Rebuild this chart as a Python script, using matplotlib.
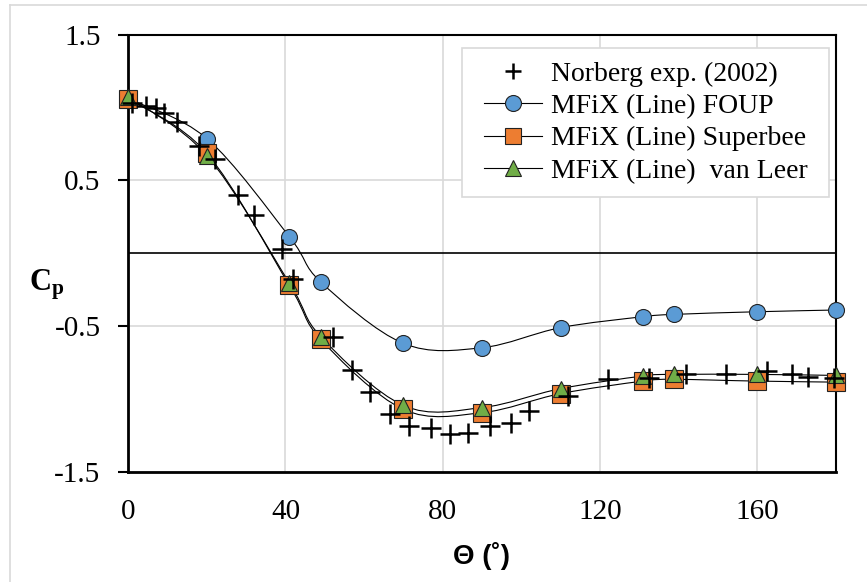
import matplotlib
matplotlib.use("Agg")
import matplotlib.pyplot as plt
from matplotlib.path import Path
from matplotlib.patches import PathPatch, Rectangle
from matplotlib.lines import Line2D

# Norberg experimental data (2002)
exp_theta = [1, 4.5, 7, 9, 12.5, 18, 22, 28, 32, 39, 42, 52, 57, 61.5, 66.5,
             71.5, 77, 82, 86.5, 92, 97.5, 102, 112, 122, 132.5, 142, 152,
             162.5, 169, 173, 179.5]
exp_cp = [1.03, 1.01, 1.0, 0.96, 0.9, 0.735, 0.65, 0.4, 0.265, 0.03, -0.18,
          -0.575, -0.8, -0.955, -1.105, -1.185, -1.2, -1.24, -1.232, -1.187,
          -1.163, -1.085, -0.98, -0.866, -0.86, -0.83, -0.827, -0.81, -0.827,
          -0.85, -0.855]

# MFiX simulations
sim_theta = [0, 20, 41, 49, 70, 90, 110, 131, 139, 160, 180]
foup_cp = [1.06, 0.787, 0.113, -0.198, -0.619, -0.649, -0.511, -0.436, -0.42,
           -0.402, -0.39]
superbee_cp = [1.06, 0.685, -0.221, -0.592, -1.072, -1.095, -0.964, -0.878,
               -0.866, -0.878, -0.885]
vanleer_cp = [1.07, 0.67, -0.205, -0.573, -1.045, -1.06, -0.93, -0.843,
              -0.832, -0.832, -0.839]

labels = ["Norberg exp. (2002)", "MFiX (Line) FOUP", "MFiX (Line) Superbee",
          "MFiX (Line)  van Leer"]
xticks = [0, 40, 80, 120, 160]
yticks = [1.5, 0.5, -0.5, -1.5]

blue = "#5B9BD5"
orange = "#ED7D31"
green = "#70AD47"
grid = "#D9D9D9"

plt.rcParams["axes.unicode_minus"] = False
plt.rcParams["mathtext.fontset"] = "custom"
plt.rcParams["mathtext.bf"] = "Liberation Serif:bold"


def smooth_path(xs, ys):
    '''Excel style smoothed line: cubic bezier through every point'''
    pts = list(zip(xs, ys))
    n = len(pts)
    verts = [pts[0]]
    codes = [Path.MOVETO]
    for i in range(n - 1):
        p0 = pts[max(i - 1, 0)]
        p1 = pts[i]
        p2 = pts[i + 1]
        p3 = pts[min(i + 2, n - 1)]
        c1 = (p1[0] + (p2[0] - p0[0]) / 6, p1[1] + (p2[1] - p0[1]) / 6)
        c2 = (p2[0] - (p3[0] - p1[0]) / 6, p2[1] - (p3[1] - p1[1]) / 6)
        verts += [c1, c2, p2]
        codes += [Path.CURVE4] * 3
    return Path(verts, codes)


fig = plt.figure(figsize=(8.67, 5.82), dpi=100)
ax = fig.add_axes([0.148, 0.1895, 0.8157, 0.7509])

ax.set_xlim(0, 180)
ax.set_ylim(-1.5, 1.5)
ax.set_xticks(xticks)
ax.set_yticks(yticks)
ax.grid(True, color=grid, lw=1.2, zorder=0)
ax.set_axisbelow(True)
ax.axhline(0, color="black", lw=1.2, zorder=1)

for sp in ax.spines.values():
    sp.set_color("black")
    sp.set_linewidth(1.5)
ax.spines["left"].set_linewidth(2)
ax.spines["bottom"].set_linewidth(2)

ax.tick_params(axis="x", length=0, pad=20, labelsize=21)
ax.tick_params(axis="y", length=7, width=1.5, pad=13, labelsize=21)
for t in ax.get_xticklabels() + ax.get_yticklabels():
    t.set_fontfamily("Liberation Serif")

# smoothed lines
for cp in [foup_cp, superbee_cp, vanleer_cp]:
    ax.add_patch(PathPatch(smooth_path(sim_theta, cp), facecolor="none",
                           edgecolor="black", lw=0.8, zorder=2))

ax.plot(sim_theta, foup_cp, ls="none", marker="o", ms=11.5, mfc=blue,
        mec="#222222", mew=0.8, zorder=3, clip_on=False)
ax.plot(sim_theta, superbee_cp, ls="none", marker="s", ms=13, mfc=orange,
        mec="#222222", mew=0.8, zorder=3, clip_on=False)
ax.plot(sim_theta, vanleer_cp, ls="none", marker="^", ms=11.5, mfc=green,
        mec="#222222", mew=0.8, zorder=4, clip_on=False)
ax.plot(exp_theta, exp_cp, ls="none", marker="+", ms=15, mec="black",
        mew=1.8, zorder=5, clip_on=False)

# legend
ax.add_patch(Rectangle((0.472, 0.6286), 0.519, 0.341, transform=ax.transAxes,
                       facecolor="white", edgecolor=grid, lw=1.2, zorder=6))
handles = [
    Line2D([], [], ls="none", marker="+", ms=11, mec="black", mew=1.8),
    Line2D([], [], color="black", lw=0.8, marker="o", ms=11.5, mfc=blue,
           mec="#222222", mew=0.8),
    Line2D([], [], color="black", lw=0.8, marker="s", ms=11.5, mfc=orange,
           mec="#222222", mew=0.8),
    Line2D([], [], color="black", lw=0.8, marker="^", ms=11.5, mfc=green,
           mec="#222222", mew=0.8),
]
leg = ax.legend(handles, labels, loc="center",
                bbox_to_anchor=(0.472 + 0.519 / 2, 0.6286 + 0.341 / 2),
                frameon=False, handlelength=2.1, handletextpad=0.3,
                labelspacing=0.25, borderpad=0.2,
                prop={"family": "Liberation Serif", "size": 20})
leg.set_zorder(7)

# axis titles
ax.set_xlabel("\u0398 (\u02da)", fontsize=20, fontweight="bold",
              fontfamily="Liberation Sans", labelpad=12)
fig.text(47 / 867, 1 - 285 / 582, r"$\mathbf{C_p}$", fontsize=22,
         ha="center", va="center")

# chart area border
fig.add_artist(Line2D([10 / 867, 1], [1 - 5 / 582, 1 - 5 / 582],
                      color=grid, lw=1.2))
fig.add_artist(Line2D([10 / 867, 10 / 867], [0, 1 - 5 / 582],
                      color=grid, lw=1.2))

plt.savefig("out.png", dpi=100)
